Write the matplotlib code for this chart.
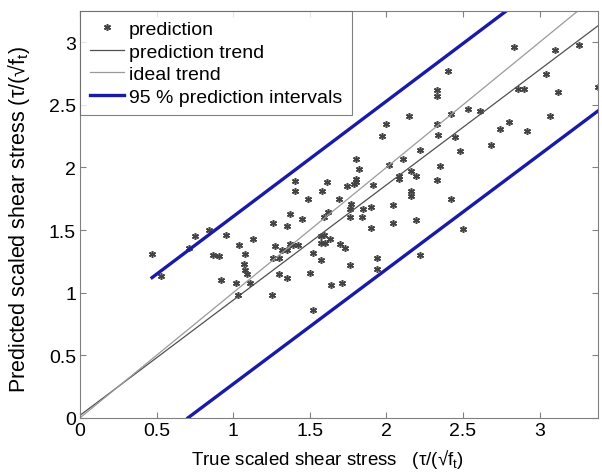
import matplotlib
matplotlib.use('Agg')
import matplotlib.pyplot as plt
import numpy as np

plt.rcParams['font.family'] = ['Liberation Sans', 'DejaVu Sans']
plt.rcParams['mathtext.fontset'] = 'custom'
plt.rcParams['mathtext.rm'] = 'Liberation Sans'

# true vs predicted scaled shear stress
true_x = [0.47, 0.53, 0.71, 0.75, 0.84, 0.95, 0.87, 0.91, 1.04, 1.13,
          0.92, 1.02, 1.11, 1.03, 1.07, 1.08, 1.08, 1.09, 1.26, 1.35,
          1.27, 1.26, 1.30, 1.32, 1.35, 1.30, 1.35, 1.25,
          1.40, 1.40, 1.49, 1.58, 1.61, 1.69, 1.74, 1.79, 1.77, 1.76,
          1.91, 1.90, 1.85, 2.04, 1.37, 1.45, 1.59, 1.62, 1.76, 1.84,
          1.90, 2.04, 2.19, 1.57, 1.59, 1.63, 1.37, 1.39, 1.42, 1.57,
          1.60, 1.70, 1.73, 1.52, 1.57, 1.76, 1.94, 1.94, 1.50, 1.64,
          1.71, 1.52, 2.22, 2.16, 2.16, 2.42, 2.33, 2.35, 2.08, 2.08,
          2.16, 2.19, 1.80, 1.82, 1.80, 1.80, 2.02, 2.11, 2.22, 2.00,
          2.15, 1.97, 2.33, 2.33, 2.33, 2.34, 2.42, 2.45,
          2.40, 2.83, 3.10, 3.26, 3.04, 2.86, 2.90, 3.12, 3.38, 2.53,
          2.61, 2.80, 2.74, 3.07, 2.92, 2.48, 2.68, 2.50]
pred_y = [1.31, 1.13, 1.36, 1.45, 1.50, 1.46, 1.30, 1.29, 1.38, 1.43,
          1.10, 1.08, 1.08, 0.98, 1.23, 1.31, 1.18, 1.15, 1.56, 1.53,
          1.37, 1.28, 1.28, 1.34, 1.34, 1.15, 1.12, 0.98,
          1.89, 1.81, 1.75, 1.81, 1.88, 1.75, 1.85, 1.87, 1.71, 1.67,
          1.86, 1.68, 1.67, 1.70, 1.63, 1.59, 1.60, 1.64, 1.60, 1.60,
          1.52, 1.56, 1.58, 1.45, 1.46, 1.43, 1.39, 1.38, 1.38, 1.40,
          1.40, 1.39, 1.36, 1.32, 1.26, 1.22, 1.28, 1.19, 1.16, 1.06,
          1.08, 0.86, 1.30, 1.81, 1.77, 1.75, 1.90, 2.01, 1.93, 1.91,
          1.97, 1.93, 2.07, 1.99, 1.91, 1.88, 2.02, 2.07, 2.14, 2.35,
          2.41, 2.25, 2.35, 2.57, 2.62, 2.26, 2.43, 2.24,
          2.77, 2.96, 2.94, 2.98, 2.75, 2.63, 2.63, 2.60, 2.64, 2.47,
          2.45, 2.36, 2.31, 2.41, 2.29, 2.13, 2.18, 1.51]

trend_x = [0.0, 3.38]
trend_y = [0.02, 3.13]
ideal_x = [0.0, 3.38]
ideal_y = [0.0, 3.38]
upper_x = [0.47, 3.38]
upper_y = [1.12, 3.80]
lower_x = [0.705, 3.38]
lower_y = [0.0, 2.45]

fig = plt.figure(figsize=(6.02, 4.77), dpi=100)
ax = fig.add_axes([0.133, 0.122, 0.860, 0.853])

# asterisk marker like matlab '*'
ax.plot(true_x, pred_y, linestyle='none', marker=(6, 2, 0), color='#444444',
        markersize=5, markeredgewidth=1.1, label='prediction')
ax.plot(trend_x, trend_y, '-', color='#505050', lw=0.9, label='prediction trend')
ax.plot(ideal_x, ideal_y, '-', color='#9a9a9a', lw=0.9, label='ideal trend')
ax.plot(upper_x, upper_y, '-', color='#1a1aa8', lw=2.4, label='95 % prediction intervals')
ax.plot(lower_x, lower_y, '-', color='#1a1aa8', lw=2.4)

ax.set_xlim(0, 3.38)
ax.set_ylim(0, 3.25)
ax.set_xticks(np.arange(0, 3.01, 0.5))
ax.set_yticks(np.arange(0, 3.01, 0.5))
ax.set_xticklabels(['0', '0.5', '1', '1.5', '2', '2.5', '3'])
ax.set_yticklabels(['0', '0.5', '1', '1.5', '2', '2.5', '3'])
ax.tick_params(direction='in', top=True, right=True, labelsize=14, length=4,
               color='#808080', pad=3)
for s in ax.spines.values():
    s.set_color('#808080')
    s.set_linewidth(0.8)

ax.set_xlabel(r'True scaled shear stress   (τ/(√f$_\mathregular{t}$)', fontsize=13.5)
ax.set_ylabel(r'Predicted scaled shear stress (τ/(√f$_\mathregular{t}$)', fontsize=15.5)
ax.xaxis.set_label_coords(0.477, -0.071)
ax.yaxis.set_label_coords(-0.093, 0.49)

leg = ax.legend(loc='upper left', fontsize=14, borderaxespad=0, frameon=True,
                fancybox=False, edgecolor='#606060', handlelength=1.75,
                handletextpad=0.25, labelspacing=0.25, borderpad=0.5)
leg.get_frame().set_linewidth(0.8)

fig.savefig('out.png', dpi=100)
